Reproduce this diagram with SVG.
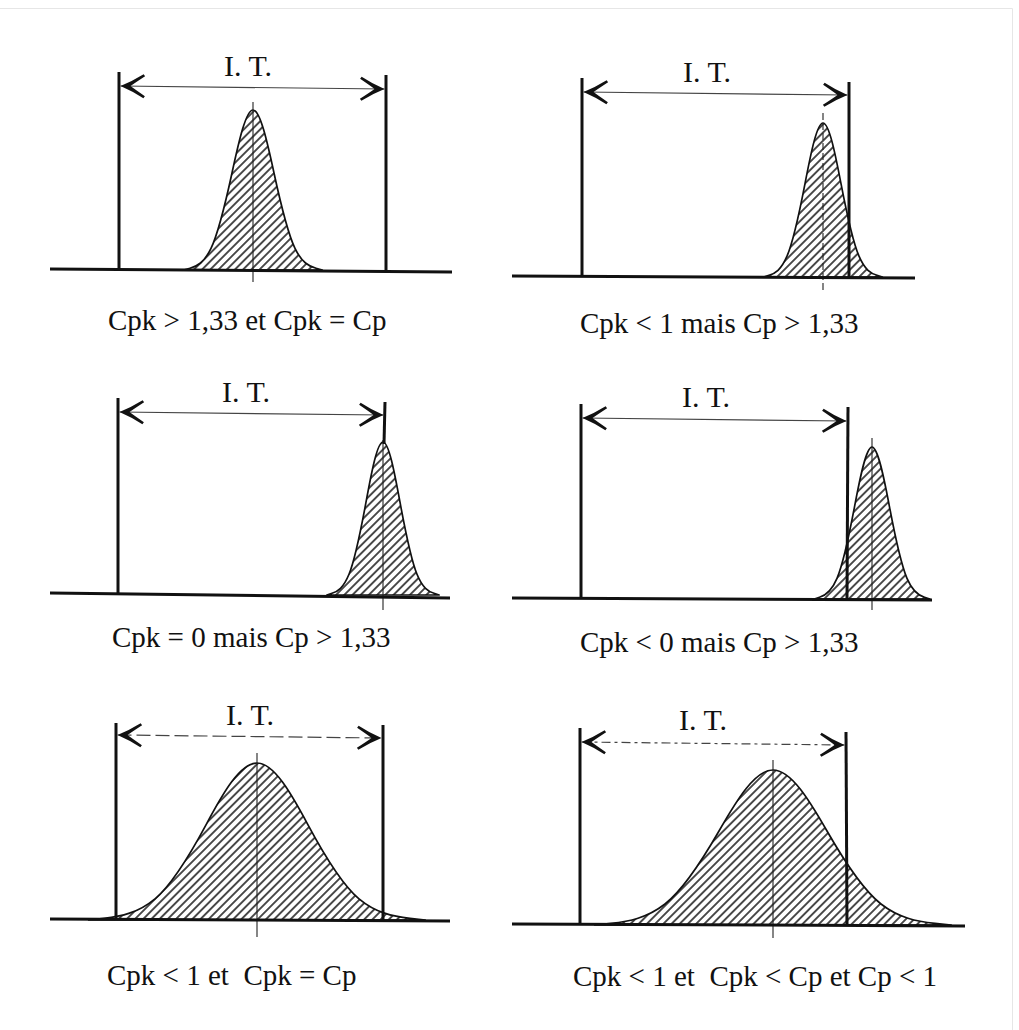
<svg xmlns="http://www.w3.org/2000/svg" width="1019" height="1030" viewBox="0 0 1019 1030">
<style>
.bg{fill:#ffffff}
.frame{stroke:#e6e6e6;stroke-width:1;fill:none}
.spec{stroke:#111;stroke-width:3;fill:none;stroke-linecap:butt}
.base{stroke:#111;stroke-width:3;fill:none}
.curve{fill:url(#hatch);stroke:#111;stroke-width:1.7;stroke-linejoin:round}
.mid{stroke:#222;stroke-width:1.1;fill:none}
.middash{stroke:#222;stroke-width:1.1;fill:none;stroke-dasharray:7 3}
.arrow{stroke:#444;stroke-width:1.2;fill:none;marker-start:url(#ah);marker-end:url(#ah)}
.dash1{stroke-dasharray:14 5}
.dash2{stroke-dasharray:9 4 3 4}
.it{font-family:"Liberation Serif","Times New Roman",serif;font-size:30px;fill:#111;text-anchor:middle}
.cap{font-family:"Liberation Serif","Times New Roman",serif;font-size:29px;fill:#111;white-space:pre}
</style>
<defs>
<pattern id="hatch" patternUnits="userSpaceOnUse" width="5.8" height="10" patternTransform="rotate(45)">
<line x1="2.9" y1="-1" x2="2.9" y2="11" stroke="#111" stroke-width="1.5"/>
</pattern>
<marker id="ah" markerUnits="userSpaceOnUse" viewBox="-26 -14 28 28" refX="0" refY="0" markerWidth="28" markerHeight="28" orient="auto-start-reverse">
<path d="M0,0 Q-12,-5 -23,-12 L-24.5,-10 Q-14,-3 -10,0 Q-14,3 -24.5,10 L-23,12 Q-12,5 0,0 Z" fill="#111" stroke="none"/>
</marker>
</defs>
<rect class="bg" x="0" y="0" width="1019" height="1030"/>
<g id="frame">
<line class="frame" x1="0" y1="8.5" x2="1012.5" y2="8.5"/>
<line class="frame" x1="1012.5" y1="8.5" x2="1012.5" y2="1030"/>
</g>

<g id="panel1">
<path class="curve" d="M183.7,270 L190,268.2 C197,266.4 204,262.8 211,248.4 C218,233.9 225,205.3 232,173 C239,140.6 246,110 253,110 C260,110 267,140.6 274,173 C281,205.3 288,233.9 295,248.4 C302,262.8 309,266.4 316,268.2 L322.3,270 Z"/>
<line class="mid" x1="253" y1="102" x2="253" y2="282"/>
<line class="spec" x1="119" y1="72" x2="119" y2="270"/>
<line class="spec" x1="386" y1="75" x2="386" y2="272"/>
<line class="base" x1="50" y1="269" x2="452" y2="272"/>
<line class="arrow" x1="120.5" y1="86" x2="384.5" y2="89"/>
<text class="it" x="248" y="76">I. T.</text>
<text class="cap" x="108" y="330">Cpk &gt; 1,33 et Cpk = Cp</text>
</g>

<g id="panel2">
<path class="curve" d="M763.6,277 L769,275.3 C775,273.6 781,270.1 787,256.2 C793,242.3 799,214.7 805,183.6 C811,152.5 817,123 823,123 C829,123 835,152.5 841,183.6 C847,214.7 853,242.3 859,256.2 C865,270.1 871,273.6 877,275.3 L882.4,277 Z"/>
<line class="middash" x1="823" y1="113" x2="823" y2="293"/>
<line class="spec" x1="582" y1="78" x2="582" y2="277"/>
<line class="spec" x1="849" y1="82" x2="849" y2="278"/>
<line class="base" x1="512" y1="276" x2="915" y2="278"/>
<line class="arrow" x1="583.5" y1="92" x2="847.5" y2="95"/>
<text class="it" x="707" y="82">I. T.</text>
<text class="cap" x="580" y="333">Cpk &lt; 1 mais Cp &gt; 1,33</text>
</g>

<g id="panel3">
<path class="curve" d="M326.9,595 L332,593.3 C337.7,591.6 343.3,588.1 349,574.3 C354.7,560.5 360.3,533.1 366,502.2 C371.7,471.3 377.3,442 383,442 C388.7,442 394.3,471.3 400,502.2 C405.7,533.1 411.3,560.5 417,574.3 C422.7,588.1 428.3,591.6 434,593.3 L439.1,595 Z"/>
<line class="mid" x1="383" y1="440" x2="383" y2="610"/>
<line class="spec" x1="118" y1="398" x2="118" y2="594"/>
<line class="spec" x1="385" y1="402" x2="384" y2="444"/>
<line class="base" x1="50" y1="593" x2="450" y2="598"/>
<line class="arrow" x1="119.5" y1="412" x2="383.5" y2="415"/>
<text class="it" x="246" y="402">I. T.</text>
<text class="cap" x="112" y="647">Cpk = 0 mais Cp &gt; 1,33</text>
</g>

<g id="panel4">
<path class="curve" d="M814.3,599 L819.5,597.3 C825.3,595.6 831.2,592.1 837,578.4 C842.8,564.7 848.7,537.5 854.5,506.8 C860.3,476.1 866.2,447 872,447 C877.8,447 883.7,476.1 889.5,506.8 C895.3,537.5 901.2,564.7 907,578.4 C912.8,592.1 918.7,595.6 924.5,597.3 L929.8,599 Z"/>
<line class="mid" x1="872" y1="438" x2="872" y2="610"/>
<line class="spec" x1="581" y1="404" x2="581" y2="598"/>
<line class="spec" x1="848" y1="407" x2="847" y2="600"/>
<line class="base" x1="512" y1="598" x2="932" y2="600"/>
<line class="arrow" x1="582.5" y1="418" x2="846.5" y2="421"/>
<text class="it" x="706" y="407">I. T.</text>
<text class="cap" x="580" y="652">Cpk &lt; 0 mais Cp &gt; 1,33</text>
</g>

<g id="panel5">
<path class="curve" d="M88.7,920 L104,918.3 C121,916.5 138,912.9 155,898.8 C172,884.6 189,856.5 206,824.8 C223,793 240,763 257,763 C274,763 291,793 308,824.8 C325,856.5 342,884.6 359,898.8 C376,912.9 393,916.5 410,918.3 L425.3,920 Z"/>
<line class="mid" x1="257" y1="753" x2="257" y2="937"/>
<line class="spec" x1="116" y1="723" x2="116" y2="920"/>
<line class="spec" x1="383" y1="725" x2="383" y2="921"/>
<line class="base" x1="50" y1="919" x2="450" y2="921"/>
<line class="arrow dash1" x1="117.5" y1="735" x2="381.5" y2="738"/>
<text class="it" x="250" y="725">I. T.</text>
<text class="cap" x="107" y="985">Cpk &lt; 1 et  Cpk = Cp</text>
</g>

<g id="panel6">
<path class="curve" d="M594.8,925 L611,923.3 C629,921.6 647,918 665,904 C683,890 701,862.3 719,831 C737,799.7 755,770 773,770 C791,770 809,799.7 827,831 C845,862.3 863,890 881,904 C899,918 917,921.6 935,923.3 L951.2,925 Z"/>
<line class="mid" x1="773" y1="760" x2="773" y2="938"/>
<line class="spec" x1="580" y1="728" x2="580" y2="925"/>
<line class="spec" x1="846" y1="732" x2="847" y2="926"/>
<line class="base" x1="512" y1="924" x2="965" y2="926"/>
<line class="arrow dash2" x1="581.5" y1="742" x2="844.5" y2="745"/>
<text class="it" x="703" y="730">I. T.</text>
<text class="cap" x="573" y="986">Cpk &lt; 1 et  Cpk &lt; Cp et Cp &lt; 1</text>
</g>
</svg>
